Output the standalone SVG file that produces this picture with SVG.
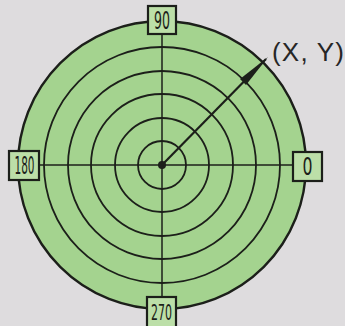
<svg xmlns="http://www.w3.org/2000/svg" width="345" height="326" viewBox="0 0 345 326">
<style>
.ring{fill:none;stroke:#1c1f1a;stroke-width:1.8}
.axis{stroke:#1c1f1a;stroke-width:1.5}
.box{fill:#bcdfa8;stroke:#1c1f1a;stroke-width:2.2}
.lbl{font-family:"DejaVu Sans Condensed","DejaVu Sans",sans-serif;font-size:24px;fill:#1c1f1a;text-anchor:middle}
.coord{font-family:"Liberation Sans",Arial,sans-serif;font-size:26px;fill:#262626}
</style>
<rect width="345" height="326" fill="#dedcde"/>
<g id="plot">
<circle cx="162" cy="165" r="144" fill="#a4d38f" stroke="#1c1f1a" stroke-width="2.4"/>
<circle class="ring" cx="162" cy="165" r="118"/>
<circle class="ring" cx="162" cy="165" r="94"/>
<circle class="ring" cx="162" cy="165" r="71"/>
<circle class="ring" cx="162" cy="165" r="47"/>
<circle class="ring" cx="162" cy="165" r="24"/>
</g>
<g id="connectors">
<line class="axis" x1="162" y1="34" x2="162" y2="297"/>
<line class="axis" x1="39" y1="165" x2="293" y2="165"/>
<circle cx="162" cy="165" r="4" fill="#1c1f1a"/>
<line x1="162" y1="165" x2="266" y2="59" stroke="#1c1f1a" stroke-width="2.2"/>
<path d="M268,57 L240,79 L246,85 Z" fill="#1c1f1a"/>
</g>
<g id="n90">
<rect class="box" x="148" y="6" width="28" height="28"/>
<text class="lbl" x="162" y="29" textLength="16" lengthAdjust="spacingAndGlyphs">90</text>
</g>
<g id="n180">
<rect class="box" x="9" y="151" width="30" height="29"/>
<text class="lbl" x="24.5" y="174" textLength="20" lengthAdjust="spacingAndGlyphs">180</text>
</g>
<g id="n0">
<rect class="box" x="293" y="152" width="29" height="29"/>
<text class="lbl" x="307.5" y="175" textLength="10" lengthAdjust="spacingAndGlyphs">0</text>
</g>
<g id="n270">
<rect class="box" x="147" y="297" width="29" height="32"/>
<text class="lbl" x="161.5" y="320" font-size="22" textLength="21" lengthAdjust="spacingAndGlyphs" style="font-size:22px">270</text>
</g>
<g id="label">
<text class="coord" x="272" y="61" textLength="72" lengthAdjust="spacing">(X, Y)</text>
</g>
</svg>
